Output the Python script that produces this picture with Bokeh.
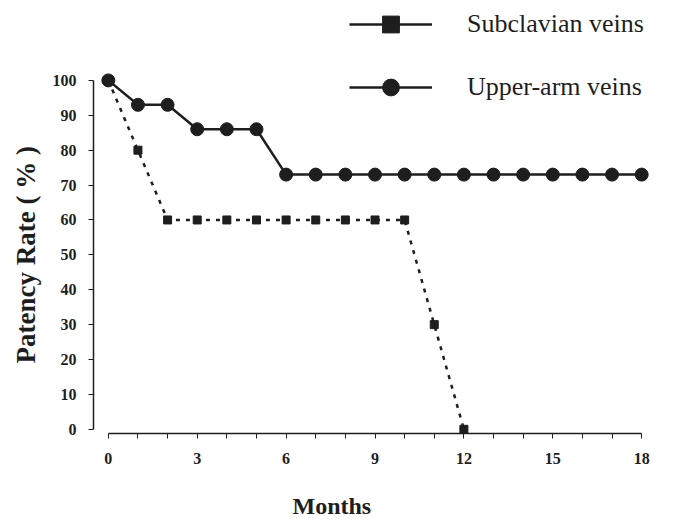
from bokeh.plotting import figure
from bokeh.models import Range1d, FixedTicker, Legend, LegendItem, Title
from bokeh.embed import file_html
from bokeh.resources import INLINE

months = list(range(0, 19))
upper_arm = [100, 93, 93, 86, 86, 86, 73, 73, 73, 73, 73, 73, 73, 73, 73, 73, 73, 73, 73]
sub_months = list(range(0, 13))
subclavian = [100, 80, 60, 60, 60, 60, 60, 60, 60, 60, 60, 30, 0]
y_ticks = list(range(0, 101, 10))
x_ticks = list(range(0, 19))
x_labels = {m: (str(m) if m % 3 == 0 else "") for m in x_ticks}

FONT = "Liberation Serif"
INK = "#1e1e1e"
NAN = float("nan")

p = figure(width=676, height=520, output_backend="svg", toolbar_location=None,
           x_range=Range1d(-0.5, 18.5), y_range=Range1d(-1.2, 122.9),
           min_border_left=93, min_border_right=20, min_border_top=0, min_border_bottom=87)
p.outline_line_color = None
p.xgrid.visible = False
p.ygrid.visible = False

# data
p.line(months, upper_arm, line_color=INK, line_width=2.5)
p.scatter(months, upper_arm, marker="circle", size=13, fill_color=INK, line_color=INK)
p.line(sub_months, subclavian, line_color=INK, line_width=2.5, line_dash="4 6")
p.scatter(sub_months, subclavian, marker="square", size=8, fill_color=INK, line_color=INK)

# legend proxies (solid lines)
l1 = p.line([NAN], [NAN], line_color=INK, line_width=2.5)
s1 = p.scatter([NAN], [NAN], marker="square", size=16, fill_color=INK, line_color=INK)
l2 = p.line([NAN], [NAN], line_color=INK, line_width=2.5)
s2 = p.scatter([NAN], [NAN], marker="circle", size=16, fill_color=INK, line_color=INK)
legend = Legend(items=[LegendItem(label="Subclavian veins", renderers=[l1, s1]),
                       LegendItem(label="Upper-arm veins", renderers=[l2, s2])],
                location=(256, 325), padding=0, margin=0, spacing=21,
                glyph_width=83, glyph_height=42, label_height=20, label_standoff=35,
                label_text_font=FONT, label_text_font_size="26px", label_text_color=INK,
                border_line_alpha=0, background_fill_alpha=0)
p.add_layout(legend)

# axes
xa = p.xaxis[0]
xa.bounds = (0, 18)
xa.ticker = FixedTicker(ticks=x_ticks)
xa.major_label_overrides = x_labels
xa.minor_tick_line_color = None
xa.major_tick_in = 0
xa.major_tick_out = 5
xa.axis_line_width = 1.5
xa.major_label_text_font = FONT
xa.major_label_text_font_style = "bold"
xa.major_label_text_font_size = "16px"
xa.major_label_standoff = 14

ya = p.yaxis[0]
ya.bounds = (0, 100)
ya.ticker = FixedTicker(ticks=y_ticks)
ya.minor_tick_line_color = None
ya.major_tick_in = 0
ya.major_tick_out = 5
ya.axis_line_width = 1.5
ya.major_label_text_font = FONT
ya.major_label_text_font_style = "bold"
ya.major_label_text_font_size = "16px"
ya.major_label_standoff = 12

for a in (xa, ya):
    a.axis_line_color = INK
    a.major_tick_line_color = INK
    a.major_label_text_color = INK

# axis titles as side-panel titles so they can be shifted like the reference
p.add_layout(Title(text="Months", align="left", offset=199, standoff=0,
                   padding=(0, 0, 24, 0),
                   text_font=FONT, text_font_style="bold", text_font_size="24px",
                   text_color=INK), "below")
p.add_layout(Title(text="Patency Rate ( % )", align="left", offset=70, standoff=17,
                   text_font=FONT, text_font_style="bold", text_font_size="27px",
                   text_color=INK), "left")

open("out.html", "w").write(file_html(p, INLINE))
